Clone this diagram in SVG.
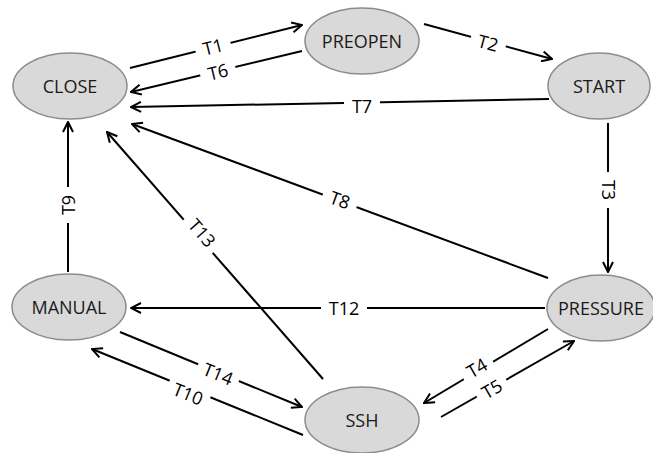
<svg xmlns="http://www.w3.org/2000/svg" width="653" height="453" viewBox="0 0 653 453">
<defs>
<marker id="arr" viewBox="0 0 12 12" refX="11" refY="6" markerWidth="12" markerHeight="12" markerUnits="userSpaceOnUse" orient="auto">
<path d="M1,1 L11,6 L1,11" fill="none" stroke="#000" stroke-width="2"/>
</marker>
</defs>
<style>
.node ellipse{fill:#d9d9d9;stroke:#8c8c8c;stroke-width:1.5}
.nt{font-family:'Open Sans','Liberation Sans',sans-serif;font-size:18px;fill:#1a1a1a;text-anchor:middle}
.edge line{stroke:#000;stroke-width:2;marker-end:url(#arr)}
.lbl rect{fill:#fff}
.lt{font-family:'Open Sans','Liberation Sans',sans-serif;font-size:18px;fill:#000;text-anchor:middle}
</style>
<rect width="653" height="453" fill="#fff"/>
<g id="connectors">
<g class="edge">
<line x1="130" y1="68" x2="302" y2="25"/>
<line x1="302" y1="51" x2="131" y2="92"/>
<line x1="424" y1="24" x2="552" y2="59"/>
<line x1="549" y1="99" x2="131" y2="107"/>
<line x1="608" y1="123" x2="608" y2="272"/>
<line x1="548" y1="278" x2="132" y2="124"/>
<line x1="323" y1="379" x2="107" y2="132"/>
<line x1="68" y1="272" x2="68" y2="122"/>
<line x1="545" y1="308" x2="131" y2="308"/>
<line x1="120" y1="332" x2="302" y2="407"/>
<line x1="303" y1="435" x2="92" y2="349"/>
<line x1="548" y1="329" x2="424" y2="403"/>
<line x1="441" y1="417" x2="574" y2="341"/>
</g>
<g class="lbl">
<g transform="translate(213,47) rotate(-14)"><rect x="-18" y="-11" width="36" height="22"/><text class="lt" y="6.5">T1</text></g>
<g transform="translate(218,72) rotate(-13.5)"><rect x="-18" y="-11" width="36" height="22"/><text class="lt" y="6.5">T6</text></g>
<g transform="translate(488,43) rotate(15)"><rect x="-18" y="-11" width="36" height="22"/><text class="lt" y="6.5">T2</text></g>
<g transform="translate(362,106)"><rect x="-18" y="-11" width="36" height="22"/><text class="lt" y="6.5">T7</text></g>
<g transform="translate(608,190) rotate(90)"><rect x="-18" y="-11" width="36" height="22"/><text class="lt" y="6.5">T3</text></g>
<g transform="translate(340,200) rotate(20)"><rect x="-18" y="-11" width="36" height="22"/><text class="lt" y="6.5">T8</text></g>
<g transform="translate(202,233) rotate(49)"><rect x="-22" y="-11" width="44" height="22"/><text class="lt" y="6.5">T13</text></g>
<g transform="translate(68,205) rotate(-90)"><rect x="-18" y="-11" width="36" height="22"/><text class="lt" y="6.5">T9</text></g>
<g transform="translate(344,308)"><rect x="-23" y="-11" width="46" height="22"/><text class="lt" y="6.5">T12</text></g>
<g transform="translate(218,374) rotate(22)"><rect x="-22" y="-11" width="44" height="22"/><text class="lt" y="6.5">T14</text></g>
<g transform="translate(188,394) rotate(22)"><rect x="-22" y="-11" width="44" height="22"/><text class="lt" y="6.5">T10</text></g>
<g transform="translate(477,368) rotate(-30)"><rect x="-17" y="-11" width="34" height="22"/><text class="lt" y="6.5">T4</text></g>
<g transform="translate(492,389) rotate(-30)"><rect x="-17" y="-11" width="34" height="22"/><text class="lt" y="6.5">T5</text></g>
</g>
</g>
<g id="CLOSE" class="node"><ellipse cx="70" cy="86" rx="57" ry="33"/><text class="nt" x="70" y="92.5">CLOSE</text></g>
<g id="PREOPEN" class="node"><ellipse cx="362" cy="41" rx="57" ry="33"/><text class="nt" x="362" y="47.5">PREOPEN</text></g>
<g id="START" class="node"><ellipse cx="599" cy="86" rx="51" ry="33"/><text class="nt" x="599" y="92.5">START</text></g>
<g id="MANUAL" class="node"><ellipse cx="69" cy="307" rx="57" ry="33"/><text class="nt" x="69" y="313.5">MANUAL</text></g>
<g id="PRESSURE" class="node"><ellipse cx="601" cy="308" rx="54" ry="33"/><text class="nt" x="601" y="314.5">PRESSURE</text></g>
<g id="SSH" class="node"><ellipse cx="362" cy="420" rx="57" ry="33"/><text class="nt" x="362" y="426.5">SSH</text></g>
</svg>
